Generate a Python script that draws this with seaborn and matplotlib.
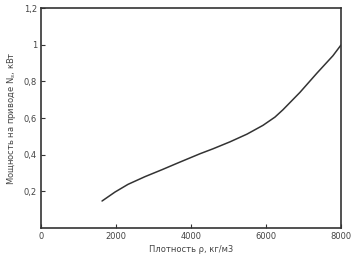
import matplotlib
matplotlib.use("Agg")
import matplotlib.pyplot as plt
import seaborn as sns
import pandas as pd

density = [1627, 1973, 2320, 2773, 3227, 3653, 4240, 4587, 5040, 5493, 5920, 6240, 6453, 6907, 7360, 7787, 8000]
power = [0.147, 0.196, 0.238, 0.280, 0.318, 0.355, 0.405, 0.432, 0.470, 0.512, 0.560, 0.605, 0.645, 0.740, 0.845, 0.940, 0.998]
x_ticks = [0, 2000, 4000, 6000, 8000]
x_labels = ["0", "2000", "4000", "6000", "8000"]
y_ticks = [0.2, 0.4, 0.6, 0.8, 1.0, 1.2]
y_labels = ["0,2", "0,4", "0,6", "0,8", "1", "1,2"]

sns.set_style("ticks")
plt.rcParams['font.family'] = ['DejaVu Sans']

df = pd.DataFrame({"x": density, "y": power})
fig = plt.figure(figsize=(3.54, 2.62), dpi=100)
ax = fig.add_axes([0.116, 0.130, 0.847, 0.839])
sns.lineplot(data=df, x="x", y="y", ax=ax, color="#333333", linewidth=1.1)
ax.set_xlim(0, 8000)
ax.set_ylim(0, 1.2)
ax.set_xticks(x_ticks)
ax.set_xticklabels(x_labels, fontsize=6, color="#444444")
ax.set_yticks(y_ticks)
ax.set_yticklabels(y_labels, fontsize=6, color="#444444")
ax.tick_params(direction="in", length=3, width=0.8, color="#333333", pad=3)
for s in ax.spines.values():
    s.set_linewidth(1.2)
    s.set_color("#333333")
ax.set_xlabel("Плотность ρ, кг/м3", fontsize=6, color="#444444", labelpad=3)
ax.set_ylabel("Мощность на приводе N$_s$, кВт", fontsize=6, color="#444444", labelpad=4)
fig.savefig("out.png", dpi=100)
